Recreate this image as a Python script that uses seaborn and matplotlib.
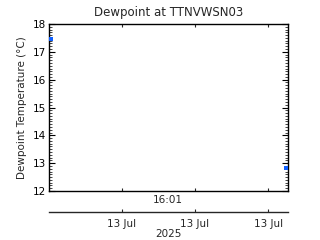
import matplotlib
matplotlib.use("Agg")
import matplotlib.pyplot as plt
import seaborn as sns
import pandas as pd
from matplotlib.ticker import MultipleLocator, FixedLocator

# Data (hours since 16:01, dewpoint in degC)
hours = [0.03, 3.24]
dewpoint = [17.45, 12.82]
tick_hours = [1.0, 2.0, 3.0]
tick_labels = ["13 Jul", "13 Jul", "13 Jul"]
title = "Dewpoint at TTNVWSN03"
ylabel = "Dewpoint Temperature (\u00b0C)"
xlabel_top = "16:01"
xlabel_bottom = "2025"

sns.set_style("ticks")
plt.rcParams['font.family'] = ['DejaVu Sans']

W, H = 320, 240
fig = plt.figure(figsize=(3.2, 2.4), dpi=100)
left, right, top, bottom = 48.5, 288, 24, 191
ax = fig.add_axes([left / W, 1 - bottom / H, (right - left) / W, (bottom - top) / H])

df = pd.DataFrame({"hours": hours, "dewpoint": dewpoint})
sns.scatterplot(data=df, x="hours", y="dewpoint", ax=ax, color="#1060ff",
                s=5, marker="s", linewidth=0, legend=False, clip_on=False, zorder=5)

ax.set_xlim(0, 3.27)
ax.set_ylim(12, 18)
ax.yaxis.set_major_locator(MultipleLocator(1))
ax.yaxis.set_minor_locator(MultipleLocator(0.1))
ax.xaxis.set_major_locator(FixedLocator(tick_hours))
ax.set_xticklabels([])
for s in ax.spines.values():
    s.set_linewidth(1.0)
    s.set_color("black")
ax.tick_params(axis="y", which="major", direction="in", length=4, width=0.8,
               left=True, right=True, labelsize=7.5, pad=2, colors="black")
ax.tick_params(axis="y", which="minor", direction="in", length=2, width=0.6,
               left=True, right=True)
ax.tick_params(axis="x", which="major", direction="in", length=2.5, width=0.8,
               top=True, bottom=True, labelbottom=False)
ax.set_xlabel(xlabel_top, fontsize=7.5, labelpad=3)
ax.set_ylabel(ylabel, fontsize=7.5, labelpad=4)
ax.set_title(title, fontsize=8.5, pad=6)

sec = ax.secondary_xaxis(location=-(212 - bottom) / (bottom - top))
sec.xaxis.set_major_locator(FixedLocator(tick_hours))
sec.set_xticklabels(tick_labels)
sec.tick_params(axis="x", direction="in", length=2.5, width=0.8, labelsize=7.5, pad=5)
sec.spines["bottom"].set_linewidth(1.0)
sec.set_xlabel(xlabel_bottom, fontsize=7.5, labelpad=0)

fig.savefig("out.png", dpi=100, facecolor="white")
